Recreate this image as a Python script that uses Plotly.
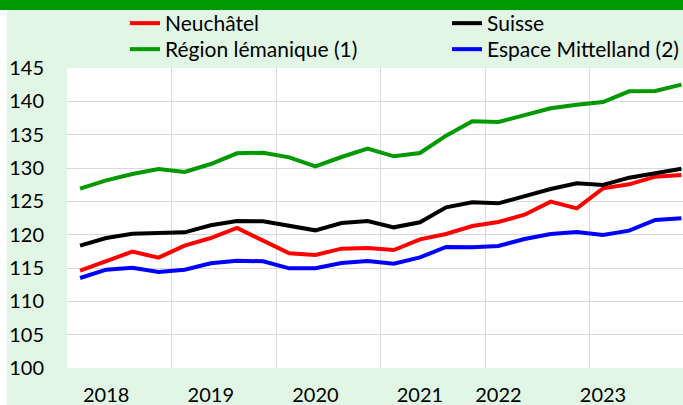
import plotly.graph_objects as go

# Quarterly index, 2018 Q1 .. 2023 Q4 (24 quarters)
quarters = list(range(24))

neuchatel = [114.6, 116.1, 117.45, 116.55, 118.35, 119.5, 121.0, 119.1, 117.2, 116.95, 117.9, 118.0,
             117.7, 119.3, 120.1, 121.3, 121.9, 123.0, 124.95, 123.95, 126.95, 127.55, 128.7, 128.95]
suisse = [118.35, 119.5, 120.15, 120.2, 120.35, 121.4, 122.05, 122.0, 121.4, 120.65, 121.75, 122.05,
          121.1, 121.85, 124.1, 124.85, 124.7, 125.75, 126.85, 127.7, 127.45, 128.55, 129.3, 129.9]
lemanique = [126.9, 128.15, 129.1, 129.85, 129.4, 130.6, 132.2, 132.3, 131.6, 130.25, 131.65, 132.9,
             131.75, 132.25, 134.85, 137.0, 136.9, 137.85, 138.95, 139.5, 139.9, 141.5, 141.55, 142.5]
mittelland = [113.5, 114.75, 115.05, 114.4, 114.75, 115.7, 116.1, 116.0, 114.95, 114.95, 115.75, 116.05,
              115.65, 116.6, 118.15, 118.1, 118.3, 119.35, 120.1, 120.4, 119.95, 120.6, 122.2, 122.45]

year_tick_pos = [1, 5, 9, 13, 16, 20]
year_labels = ["2018", "2019", "2020", "2021", "2022", "2023"]
grid_pos = [-0.5, 3.5, 7.5, 11.5, 15.5, 19.5]
y_ticks = [100, 105, 110, 115, 120, 125, 130, 135, 140, 145]

FONT = "Lato"
W, H = 683, 405
ML, MT, MB, MR = 67, 68, 37, 0
PW, PH = W - ML - MR, H - MT - MB

def px_x(p):
    return (p - ML) / PW

def px_y(p):
    return (H - MB - p) / PH

fig = go.Figure()
series = [
    ("Neuchâtel", neuchatel, "#FF0000", "legend"),
    ("Suisse", suisse, "#000000", "legend2"),
    ("Région lémanique (1)", lemanique, "#009900", "legend3"),
    ("Espace Mittelland (2)", mittelland, "#0000FF", "legend4"),
]
for name, vals, col, lg in series:
    fig.add_trace(go.Scatter(x=quarters, y=vals, name=name, mode="lines",
                             line=dict(color=col, width=4), legend=lg))

leg_font = dict(family=FONT, size=21, color="#000000")

def leg(xp, yp):
    return dict(x=px_x(xp), y=px_y(yp), xanchor="left", yanchor="top",
                orientation="v", bgcolor="rgba(0,0,0,0)", font=leg_font)

fig.update_layout(
    width=W, height=H,
    margin=dict(l=ML, r=MR, t=MT, b=MB, pad=0, autoexpand=False),
    paper_bgcolor="#E2F6E6",
    plot_bgcolor="#FFFFFF",
    font=dict(family=FONT, size=20, color="#000000"),
    showlegend=True,
    legend=leg(125, 3),
    legend2=leg(447, 3),
    legend3=leg(125, 29),
    legend4=leg(447, 29),
    xaxis=dict(range=[-0.5, 23.06], showgrid=False, zeroline=False, showline=False,
               tickmode="array", tickvals=year_tick_pos, ticktext=year_labels,
               ticks="", ticklabelstandoff=13, automargin=False,
               minor=dict(tickmode="array", tickvals=grid_pos, showgrid=True,
                          gridcolor="#D9D9D9", gridwidth=1, ticks=""),
               fixedrange=True),
    yaxis=dict(range=[100, 145], tickmode="array", tickvals=y_ticks,
               showgrid=True, gridcolor="#D9D9D9", gridwidth=1, automargin=False,
               zeroline=False, showline=False, ticks="", ticklabelstandoff=22,
               fixedrange=True),
    shapes=[
        dict(type="rect", xref="paper", yref="paper",
             x0=px_x(0), x1=px_x(W), y0=px_y(10), y1=px_y(0),
             fillcolor="#009900", line=dict(width=0), layer="above"),
        dict(type="rect", xref="paper", yref="paper",
             x0=px_x(0), x1=px_x(7), y0=px_y(H), y1=px_y(10),
             fillcolor="#FFFFFF", line=dict(width=0), layer="above"),
    ],
)

fig.write_html("out.html", config={"displayModeBar": False},
               post_script="document.body.style.margin='0';document.body.style.overflow='hidden';")
